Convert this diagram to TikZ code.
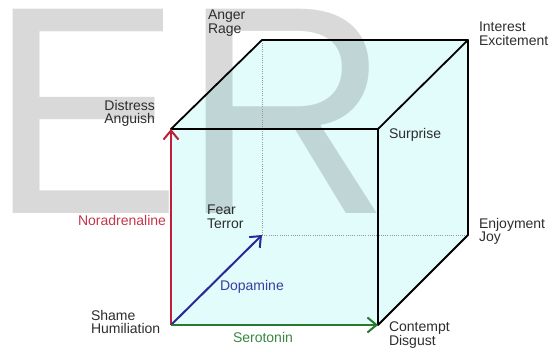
\documentclass[tikz,border=0pt]{standalone}
\usepackage{fontspec}
\setmainfont{Liberation Sans}
\usetikzlibrary{arrows.meta}
\definecolor{cubefill}{RGB}{226,252,252}
\definecolor{labelgray}{RGB}{45,45,45}
\definecolor{nored}{RGB}{190,30,55}
\definecolor{notext}{RGB}{195,55,75}
\definecolor{doblue}{RGB}{40,40,150}
\definecolor{dotext}{RGB}{60,60,160}
\definecolor{segreen}{RGB}{40,120,50}
\definecolor{setext}{RGB}{55,135,65}
\tikzset{
  lbl/.style={inner sep=0pt, outer sep=0pt, text=labelgray, font=\fontsize{14}{13.5}\selectfont},
  edge/.style={line width=1.8pt, black, line cap=round, line join=round},
  hidden/.style={line width=0.8pt, gray!80, dash pattern=on 1pt off 1.2pt},
  neuro/.style={line width=2pt, -{Straight Barb[length=9pt,width=15pt]}},
  wmark/.style={text opacity=0.15, text=black, inner sep=0pt, outer sep=0pt, font=\fontsize{297}{297}\selectfont}
}
\begin{document}
\begin{tikzpicture}[x=1pt,y=-1pt]
\useasboundingbox (0,0) rectangle (552,350);
% cube corners
\coordinate (fbl) at (171,325);
\coordinate (ftl) at (171,129);
\coordinate (ftr) at (378,129);
\coordinate (fbr) at (378,325);
\coordinate (bbl) at (262,235);
\coordinate (btl) at (262,40);
\coordinate (btr) at (468,40);
\coordinate (bbr) at (468,235);
% fill
\fill[cubefill] (fbl) -- (ftl) -- (btl) -- (btr) -- (bbr) -- (fbr) -- cycle;
% watermark
\node[wmark, anchor=base west, xscale=0.97] (wm) at (-10,214) {ER};
% hidden edges
\draw[hidden] (bbl) -- (btl);
\draw[hidden] (bbl) -- (bbr);
% visible edges
\draw[edge] (ftl) -- (ftr) -- (fbr);
\draw[edge] (ftl) -- (btl) -- (btr) -- (bbr) -- (fbr);
\draw[edge] (ftr) -- (btr);
% neurotransmitter arrows
\draw[neuro, nored] (fbl) -- (ftl);
\draw[neuro, doblue] (fbl) -- (bbl);
\draw[neuro, segreen] (fbl) -- (fbr);
% labels
\node[lbl, anchor=north west, align=left] (anger) at (208,10) {Anger\\Rage};
\node[lbl, anchor=north west, align=left] (interest) at (479,22) {Interest\\Excitement};
\node[lbl, anchor=north east, align=right] (distress) at (155,100) {Distress\\Anguish};
\node[lbl, anchor=north west, align=left] (surprise) at (389,128) {Surprise};
\node[lbl, anchor=north west, align=left] (fear) at (207,205) {Fear\\Terror};
\node[lbl, anchor=north west, align=left] (enjoy) at (479,218) {Enjoyment\\Joy};
\node[lbl, anchor=north west, align=left] (shame) at (91,310) {Shame\\Humiliation};
\node[lbl, anchor=north west, align=left] (contempt) at (389,322) {Contempt\\Disgust};
\node[lbl, text=notext, anchor=north east] (nor) at (166,215) {Noradrenaline};
\node[lbl, text=dotext, anchor=north west] (dop) at (220,280) {Dopamine};
\node[lbl, text=setext, anchor=north west] (ser) at (233,332) {Serotonin};
\end{tikzpicture}
\end{document}
